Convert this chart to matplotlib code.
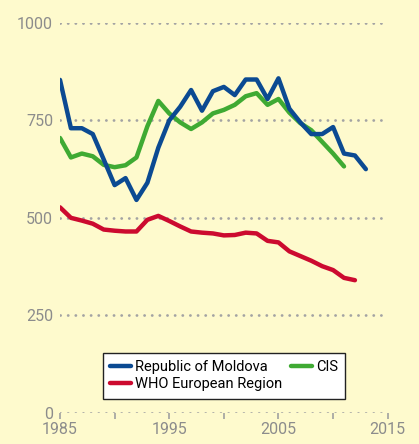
import numpy as np
import matplotlib
matplotlib.use("Agg")
import matplotlib.pyplot as plt

plt.rcParams['font.family'] = ['Roboto', 'DejaVu Sans']

# data (per 100 000)
years_mda = list(range(1985, 2014))
moldova = [854, 730, 730, 715, 650, 584, 602, 546, 590, 680, 750, 785, 828, 775,
           825, 836, 815, 855, 855, 805, 858, 780, 745, 715, 715, 733, 665, 660, 625]
years_cis = list(range(1985, 2012))
cis = [705, 655, 665, 658, 636, 630, 635, 655, 735, 800, 768, 745, 728, 745,
       768, 777, 790, 812, 820, 790, 805, 770, 743, 725, 695, 665, 632]
years_eur = list(range(1985, 2013))
who_eur = [527, 500, 493, 485, 470, 467, 465, 465, 495, 505, 492, 478, 465, 462,
           460, 455, 456, 462, 460, 441, 437, 414, 402, 390, 376, 366, 346, 340]

y_ticks = [0, 250, 500, 750, 1000]
x_labels = [1985, 1995, 2005, 2015]

bg = '#fefacd'
grey = '#8c8c8c'

fig = plt.figure(figsize=(4.19, 4.44), dpi=100, facecolor=bg)
ax = fig.add_axes([60 / 419, 1 - 412.7 / 444, 327.7 / 419, 389.7 / 444])
ax.set_facecolor(bg)

# dotted gridlines
for v in y_ticks:
    ax.plot([1985, 2014.6], [v, v], color='#a3a3a3', lw=2.0,
            linestyle=(0, (0.05, 2.7)), dash_capstyle='round', zorder=1)

lw = 3.2
l1, = ax.plot(years_mda, moldova, color='#0b4a92', lw=lw, solid_joinstyle='round',
              solid_capstyle='round', zorder=4, label='Republic of Moldova')
l3, = ax.plot(years_cis, cis, color='#3faa33', lw=lw, solid_joinstyle='round',
              solid_capstyle='round', zorder=3, label='CIS')
l2, = ax.plot(years_eur, who_eur, color='#cc0a2f', lw=lw, solid_joinstyle='round',
              solid_capstyle='round', zorder=3, label='WHO European Region')

ax.set_xlim(1985, 2015)
ax.set_ylim(0, 1000)
for s in ax.spines.values():
    s.set_visible(False)
ax.set_yticks(y_ticks)
ax.set_yticklabels([str(v) for v in y_ticks])
ax.tick_params(axis='y', length=0, pad=5, labelsize=11.5, labelcolor=grey)
ax.set_xticks(range(1985, 2016, 5))
ax.set_xticklabels([str(y) if y in x_labels else '' for y in range(1985, 2016, 5)])
ax.tick_params(axis='x', length=4, width=1.2, color='#a0a0a0', direction='out',
               pad=3, labelsize=11.5, labelcolor=grey)

leg = ax.legend(handles=[l1, l2, l3], ncol=2, loc='upper left',
                bbox_to_anchor=((103 - 60) / 327.7, (412.7 - 352.5) / 389.7),
                frameon=True, fancybox=False, framealpha=1, edgecolor='#222222',
                fontsize=10.5, handlelength=1.4, handletextpad=0.3,
                columnspacing=0.6, borderpad=0.5, labelspacing=0.25,
                borderaxespad=0)
leg.get_frame().set_linewidth(1.0)

fig.savefig('out.png', dpi=100, facecolor=bg)
